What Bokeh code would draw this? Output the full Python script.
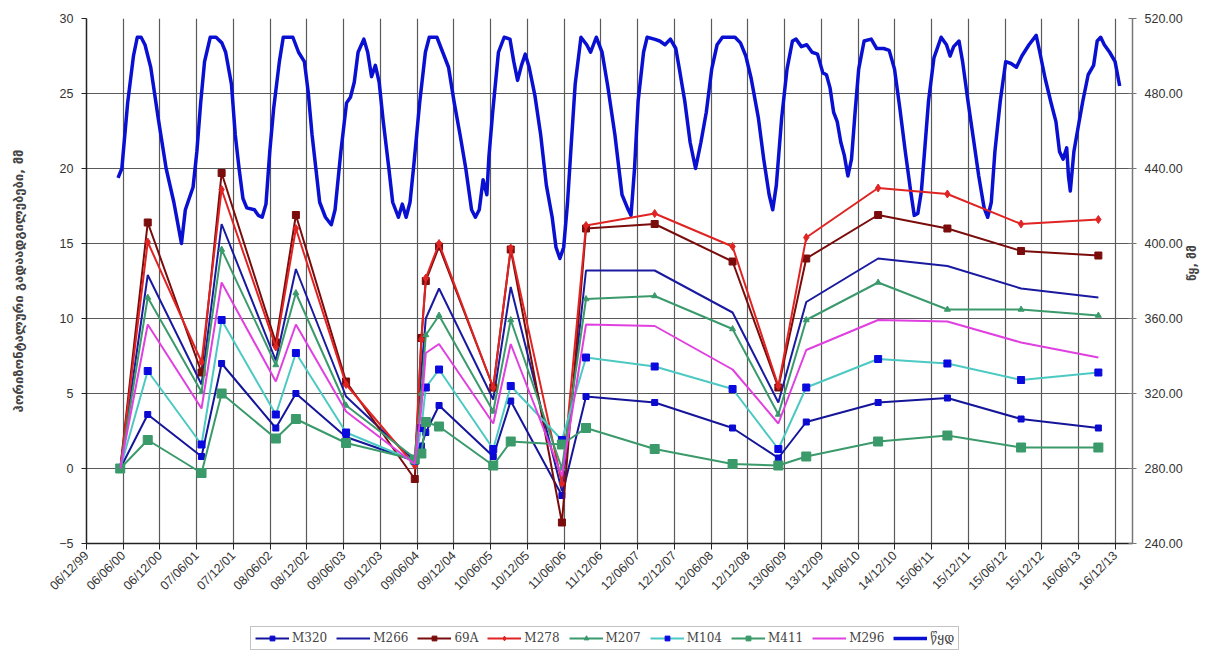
import math
import pandas as pd
from bokeh.plotting import figure
from bokeh.layouts import column
from bokeh.models import (Range1d, LinearAxis, FixedTicker, DatetimeTickFormatter,
                          NumeralTickFormatter, Legend, LegendItem)
from bokeh.embed import file_html
from bokeh.resources import INLINE

# ---------------- data ----------------
tick_labels = ["06/12/99", "06/06/00", "06/12/00", "07/06/01", "07/12/01", "08/06/02",
               "08/12/02", "09/06/03", "09/12/03", "09/06/04", "09/12/04", "10/06/05",
               "10/12/05", "11/06/06", "11/12/06", "12/06/07", "12/12/07", "12/06/08",
               "12/12/08", "13/06/09", "13/12/09", "14/06/10", "14/12/10", "15/06/11",
               "15/12/11", "15/06/12", "15/12/12", "16/06/13", "16/12/13"]
x_start = "1999-12-06"
x_end = "2014-03-12"

left_ticks = [-5, 0, 5, 10, 15, 20, 25, 30]
right_ticks = [240, 280, 320, 360, 400, 440, 480, 520]

meas_dates = ["2000-05-22", "2000-10-06", "2001-07-01", "2001-10-09", "2002-07-06",
              "2002-10-14", "2003-06-21", "2004-05-28", "2004-06-30", "2004-07-22",
              "2004-09-26", "2005-06-23", "2005-09-18", "2006-05-31", "2006-09-28",
              "2007-09-05", "2008-09-27", "2009-05-13", "2009-09-29", "2010-09-22",
              "2011-09-02", "2012-09-03", "2013-09-23"]

M320 = [0, 3.6, 0.8, 7.0, 2.7, 5.0, 2.1, 0.5, 1.5, 2.4, 4.2, 0.8, 4.5, -1.8, 4.8, 4.4,
        2.7, 0.7, 3.1, 4.4, 4.7, 3.3, 2.7]
M266 = [0, 12.9, 5.6, 16.3, 7.2, 13.3, 4.8, 0.5, 6.5, 10.0, 12.0, 4.6, 12.1, -1.5, 13.2,
        13.2, 10.4, 4.4, 11.1, 14.0, 13.5, 12.0, 11.4]
A69 = [0, 16.4, 6.4, 19.7, 8.4, 16.9, 5.8, -0.7, 8.7, 12.5, 14.8, 5.4, 14.6, -3.6, 16.0,
       16.3, 13.8, 5.4, 14.0, 16.9, 16.0, 14.5, 14.2]
M278 = [0, 15.1, 7.1, 18.6, 8.1, 16.0, 5.6, 0.2, 8.6, 12.7, 15.0, 5.4, 14.7, -1.0, 16.2,
        17.0, 14.8, 5.5, 15.4, 18.7, 18.3, 16.3, 16.6]
M207 = [0, 11.4, 5.1, 14.6, 6.9, 11.7, 4.2, 0.7, 5.0, 8.9, 10.2, 3.8, 9.9, 0.0, 11.3,
        11.5, 9.3, 3.6, 9.9, 12.4, 10.6, 10.6, 10.2]
M104 = [0, 6.5, 1.6, 9.9, 3.6, 7.7, 2.4, 0.5, 2.7, 5.4, 6.6, 1.3, 5.5, 1.9, 7.4, 6.8,
        5.3, 1.3, 5.4, 7.3, 7.0, 5.9, 6.4]
M411 = [0, 1.9, -0.3, 5.0, 2.0, 3.3, 1.7, 0.6, 1.0, 3.1, 2.8, 0.2, 1.8, 1.6, 2.7, 1.3,
        0.3, 0.2, 0.8, 1.8, 2.2, 1.4, 1.4]
M296 = [0, 9.6, 4.0, 12.4, 5.8, 9.6, 3.8, 0.3, 4.0, 7.7, 8.3, 3.0, 8.3, -0.5, 9.6, 9.5,
        6.6, 3.0, 7.9, 9.9, 9.8, 8.4, 7.4]

# water level (decimal year, level)
level_year = [2000.358, 2000.410, 2000.489, 2000.568, 2000.620, 2000.672, 2000.725, 2000.803,
              2000.908, 2001.013, 2001.118, 2001.170, 2001.222, 2001.275, 2001.327, 2001.380,
              2001.432, 2001.484, 2001.537, 2001.615, 2001.694, 2001.773, 2001.825, 2001.904,
              2001.956, 2002.008, 2002.061, 2002.113, 2002.218, 2002.270, 2002.323, 2002.375,
              2002.427, 2002.480, 2002.558, 2002.611, 2002.742, 2002.820, 2002.899, 2002.951,
              2003.004, 2003.056, 2003.108, 2003.187, 2003.266, 2003.318, 2003.397, 2003.475,
              2003.528, 2003.580, 2003.632, 2003.711, 2003.763, 2003.816, 2003.868, 2003.920,
              2003.973, 2004.052, 2004.104, 2004.182, 2004.235, 2004.287, 2004.340, 2004.392,
              2004.471, 2004.549, 2004.602, 2004.706, 2004.785, 2004.864, 2004.942, 2005.021,
              2005.099, 2005.178, 2005.230, 2005.283, 2005.335, 2005.387, 2005.414, 2005.466,
              2005.545, 2005.623, 2005.702, 2005.754, 2005.806, 2005.859, 2005.911, 2005.964,
              2006.042, 2006.121, 2006.199, 2006.278, 2006.330, 2006.383, 2006.435, 2006.488,
              2006.540, 2006.592, 2006.671, 2006.749, 2006.802, 2006.880, 2006.959, 2007.036,
              2007.134, 2007.231, 2007.305, 2007.354, 2007.402, 2007.451, 2007.525, 2007.574,
              2007.671, 2007.745, 2007.818, 2007.891, 2007.965, 2008.014, 2008.087, 2008.160,
              2008.234, 2008.307, 2008.380, 2008.454, 2008.527, 2008.600, 2008.771, 2008.845,
              2008.918, 2008.991, 2009.089, 2009.162, 2009.236, 2009.285, 2009.334, 2009.407,
              2009.480, 2009.554, 2009.603, 2009.676, 2009.749, 2009.822, 2009.896, 2009.969,
              2010.018, 2010.067, 2010.116, 2010.165, 2010.214, 2010.262, 2010.311, 2010.360,
              2010.409, 2010.458, 2010.532, 2010.629, 2010.703, 2010.800, 2010.874, 2010.947,
              2011.020, 2011.094, 2011.167, 2011.216, 2011.265, 2011.314, 2011.363, 2011.411,
              2011.485, 2011.583, 2011.656, 2011.705, 2011.754, 2011.827, 2011.876, 2011.949,
              2012.023, 2012.096, 2012.169, 2012.218, 2012.267, 2012.316, 2012.389, 2012.463,
              2012.536, 2012.609, 2012.683, 2012.780, 2012.878, 2012.927, 2013.000, 2013.074,
              2013.147, 2013.196, 2013.245, 2013.294, 2013.318, 2013.343, 2013.392, 2013.441,
              2013.514, 2013.587, 2013.661, 2013.710, 2013.758, 2013.807, 2013.880, 2013.954,
              2014.017]
level_val = [435, 440, 475, 500, 510, 510, 506, 494,
             466, 440, 422, 411, 400, 418, 424, 430,
             449, 475, 497, 510, 510, 507, 502, 485,
             458, 440, 424, 419, 418, 415, 414, 421,
             449, 472, 497, 510, 510, 502, 497, 481,
             458, 440, 422, 414, 410, 418, 449, 475,
             478, 486, 502, 509, 502, 489, 495, 486,
             466, 440, 422, 414, 421, 414, 422, 442,
             475, 502, 510, 510, 502, 494, 475, 458,
             440, 418, 414, 418, 434, 426, 446, 470,
             502, 510, 509, 497, 487, 495, 501, 494,
             479, 458, 431, 414, 398, 392, 398, 422,
             454, 485, 510, 506, 502, 510, 502, 484,
             458, 426, 419, 415, 440, 476, 502, 510,
             509, 508, 506, 509, 504, 493, 476, 454,
             440, 454, 470, 493, 506, 510, 510, 507,
             500, 488, 467, 445, 426, 418, 431, 467,
             493, 508, 509, 505, 506, 502, 501, 491,
             490, 483, 470, 465, 454, 447, 436, 445,
             470, 493, 508, 509, 504, 504, 503, 493,
             472, 449, 428, 415, 416, 428, 452, 476,
             499, 510, 506, 500, 505, 508, 497, 476,
             456, 436, 419, 414, 422, 449, 476, 497,
             496, 494, 500, 506, 511, 502, 488, 476,
             465, 449, 445, 451, 436, 428, 449, 460,
             476, 490, 495, 508, 510, 506, 502, 497,
             484]

# ---------------- helpers ----------------
def dec_year(y):
    yr = int(y)
    a = pd.Timestamp(yr, 1, 1)
    b = pd.Timestamp(yr + 1, 1, 1)
    return a + (b - a) * (y - yr)

tick_dates = [pd.to_datetime(t, format="%d/%m/%y") for t in tick_labels]
tick_ms = [d.value / 1e6 for d in tick_dates]
mdates = pd.to_datetime(meas_dates)
ldates = [dec_year(y) for y in level_year]

# ---------------- main figure ----------------
p = figure(width=1225, height=615, x_axis_type="datetime",
           x_range=Range1d(pd.Timestamp(x_start), pd.Timestamp(x_end)),
           y_range=Range1d(-5, 30), output_backend="svg", toolbar_location=None,
           min_border_left=86, min_border_right=93, min_border_top=18, min_border_bottom=72)
p.outline_line_color = None
p.background_fill_color = "white"
p.extra_y_ranges = {"lvl": Range1d(240, 520)}

xt = FixedTicker(ticks=tick_ms)
p.xaxis.ticker = xt
fmt = "%d/%m/%y"
p.xaxis.formatter = DatetimeTickFormatter(milliseconds=fmt, seconds=fmt, minsec=fmt, minutes=fmt,
                                          hourmin=fmt, hours=fmt, days=fmt, months=fmt, years=fmt)
p.xaxis.major_label_orientation = math.pi / 4
p.yaxis.ticker = FixedTicker(ticks=left_ticks)

p.xgrid.ticker = xt
p.ygrid.ticker = FixedTicker(ticks=left_ticks)
p.xgrid.grid_line_color = "#5a5a5a"
p.ygrid.grid_line_color = "#5a5a5a"
p.xgrid.grid_line_width = 1.2
p.ygrid.grid_line_width = 1.2

for ax in [p.xaxis[0], p.yaxis[0]]:
    ax.axis_line_color = "#222222"
    ax.axis_line_width = 1.5
    ax.major_tick_line_color = "#222222"
    ax.minor_tick_line_color = None
    ax.major_label_text_font = "Liberation Sans"
    ax.major_label_text_font_size = "12.5px"
    ax.major_label_text_color = "#333333"
p.xaxis.major_tick_in = 0
p.xaxis.major_tick_out = 6
p.yaxis.major_tick_in = 0
p.yaxis.major_tick_out = 5
p.yaxis.major_label_standoff = 8
p.xaxis.major_label_standoff = 4

p.yaxis.axis_label = "ჰორიზონტალური გადაადგილებები, მმ"
p.yaxis.axis_label_text_font = "DejaVu Sans"
p.yaxis.axis_label_text_font_style = "bold"
p.yaxis.axis_label_text_font_size = "13px"
p.yaxis.axis_label_standoff = 30

ra = LinearAxis(y_range_name="lvl", ticker=FixedTicker(ticks=right_ticks),
                formatter=NumeralTickFormatter(format="0.00"))
ra.axis_line_color = "#777777"
ra.axis_line_width = 1.5
ra.major_tick_line_color = "#777777"
ra.major_tick_in = 4
ra.major_tick_out = 4
ra.minor_tick_line_color = None
ra.major_label_text_font = "Liberation Sans"
ra.major_label_text_font_size = "12.5px"
ra.major_label_text_color = "#333333"
ra.major_label_standoff = 8
ra.axis_label = "წყ, მმ"
ra.axis_label_orientation = math.pi / 2
ra.axis_label_text_font = "DejaVu Sans"
ra.axis_label_text_font_style = "bold"
ra.axis_label_text_font_size = "12px"
ra.axis_label_standoff = 6
p.add_layout(ra, "right")

# ---------------- legend strip ----------------
p2 = figure(width=1225, height=38, y_range=Range1d(1000, 1001),
            output_backend="svg", toolbar_location=None,
            min_border_left=0, min_border_right=0, min_border_top=0, min_border_bottom=0)
p2.x_range = Range1d(pd.Timestamp(x_start).value / 1e6, pd.Timestamp(x_end).value / 1e6)
p2.axis.visible = False
p2.grid.visible = False
p2.outline_line_color = None
p2.extra_y_ranges = {"lvl": Range1d(1000, 1001)}

# ---------------- glyphs ----------------
items = []
def series(name, xs, vals, lc, lw=2, marker=None, mcol=None, msize=6, **kw):
    for fig, store in ((p, False), (p2, True)):
        rs = [fig.line(xs, vals, line_color=lc, line_width=lw, **kw)]
        if marker:
            rs.append(fig.scatter(xs, vals, marker=marker, size=msize,
                                  fill_color=mcol, line_color=mcol, **kw))
        if store:
            items.append(LegendItem(label=name, renderers=rs))

series("M320", mdates, M320, "#15159a", 2, "square", "#0a0ad0", 6)
series("M266", mdates, M266, "#1a1aa0", 2)
series("69A", mdates, A69, "#7a0c0c", 2, "square", "#7a0c0c", 7)
series("M278", mdates, M278, "#e02424", 2, "diamond", "#e02424", 8)
series("M207", mdates, M207, "#3b9a6c", 2, "triangle", "#3b9a6c", 6)
series("M104", mdates, M104, "#4cc9c2", 2, "square", "#0a0ae0", 7)
series("M411", mdates, M411, "#3a9a6a", 2, "square", "#3a9a6a", 9)
series("M296", mdates, M296, "#e040e0", 2)
series("წყდ", ldates, level_val, "#0a10d2", 3.5, y_range_name="lvl", line_join="round")

# draw water under the displacement series in the main plot
wr = [r for r in p.renderers if getattr(r, "y_range_name", "default") == "lvl"]
p.renderers = wr + [r for r in p.renderers if r not in wr]

leg = Legend(items=items, orientation="horizontal", location=(164, 3),
             label_text_font="DejaVu Serif", label_text_font_size="12px",
             glyph_width=34, glyph_height=12, spacing=9, padding=4, margin=0,
             border_line_color="#888888", border_line_width=1.5,
             label_standoff=3, label_height=12)
p2.add_layout(leg, "center")

open("out.html", "w").write(file_html(column(p, p2, spacing=0), INLINE))
